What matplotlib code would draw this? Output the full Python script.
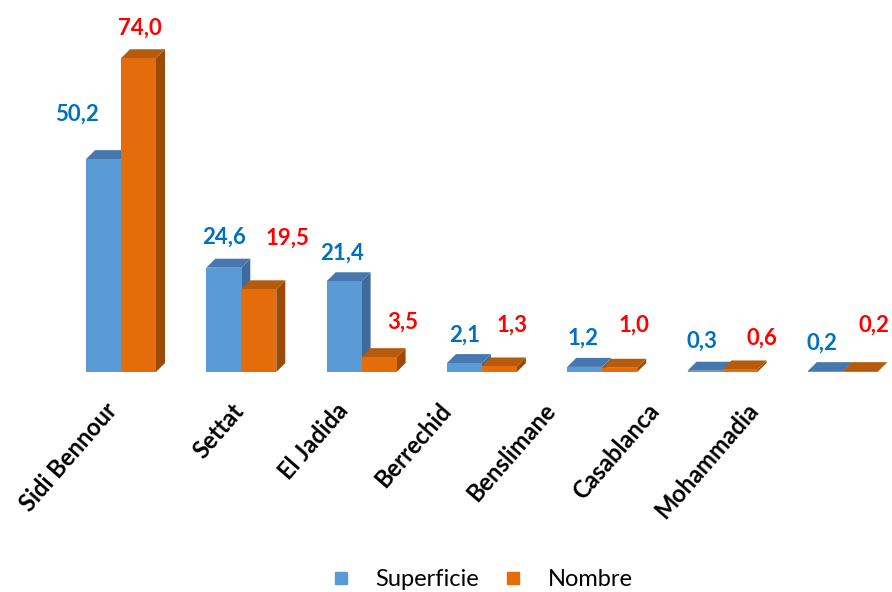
import matplotlib.pyplot as plt
from matplotlib.patches import Polygon
from matplotlib.lines import Line2D

# data
provinces = ["Sidi Bennour", "Settat", "El Jadida", "Berrechid",
             "Benslimane", "Casablanca", "Mohammadia"]
superficie = [50.2, 24.6, 21.4, 2.1, 1.2, 0.3, 0.2]
nombre = [74.0, 19.5, 3.5, 1.3, 1.0, 0.6, 0.2]
series_names = ["Superficie", "Nombre"]

# layout (pixel offsets of labels)
sup_lbl_off = [(-27, 45), (0, 30), (-2, 28), (0, 28), (-2, 29), (-3, 30), (-3, 28)]
nom_lbl_off = [(1, 30), (29, 51), (24, 35), (13, 41), (14, 43), (22, 31), (14, 46)]
cat_lbl_shift = [-17, -10, -26, -44, -60, -76, -97]

blue = "#5B9BD5"
blue_top = "#4677AE"
blue_side = "#3E6A9C"
orange = "#E46C0A"
orange_top = "#B65A0C"
orange_side = "#9C4A07"

px_x = 120.3        # pixels per category
px_y = 4.24         # pixels per unit
w = 35 / px_x
dx = 9 / px_x
dy = 9 / px_y

fig = plt.figure(figsize=(8.92, 5.92), dpi=100)
ax = fig.add_axes([0, 212 / 592, 1, 380 / 592])
ax.set_xlim(-121 / px_x, (892 - 121) / px_x)
ax.set_ylim(-8 / px_y, 372 / px_y)
ax.axis("off")


def bar3d(x0, h, front, top, side, z):
    ax.add_patch(Polygon([(x0 + w, 0), (x0 + w + dx, dy), (x0 + w + dx, h + dy), (x0 + w, h)],
                         closed=True, fc=side, ec="none", zorder=z))
    ax.add_patch(Polygon([(x0, h), (x0 + w, h), (x0 + w + dx, h + dy), (x0 + dx, h + dy)],
                         closed=True, fc=top, ec="none", zorder=z + 0.1))
    ax.bar(x0, h, width=w, align="edge", color=front, edgecolor="none", zorder=z + 0.2)


for i, (s, n) in enumerate(zip(superficie, nombre)):
    bar3d(i - w, s, blue, blue_top, blue_side, 2)
    bar3d(i, n, orange, orange_top, orange_side, 3)

    ax.annotate(f"{s:.1f}".replace(".", ","), xy=(i - w / 2, s), xytext=sup_lbl_off[i],
                textcoords="offset pixels", ha="center", va="center",
                fontsize=16, fontweight="bold", family="Lato", color="#0070C0")
    ax.annotate(f"{n:.1f}".replace(".", ","), xy=(i + w / 2, n), xytext=nom_lbl_off[i],
                textcoords="offset pixels", ha="center", va="center",
                fontsize=16, fontweight="bold", family="Lato", color="#FF0000")

    ax.annotate(provinces[i], xy=(i, 0), xytext=(cat_lbl_shift[i], -27),
                textcoords="offset pixels", ha="right", va="top",
                rotation=49, rotation_mode="anchor", annotation_clip=False,
                fontsize=17, fontweight="bold", family="Lato", color="black")

handles = [Line2D([], [], ls="none", marker="s", markersize=8, color=blue),
           Line2D([], [], ls="none", marker="s", markersize=8, color=orange)]
fig.legend(handles, series_names, loc="center", bbox_to_anchor=(481 / 892, 1 - 580 / 592),
           ncol=2, frameon=False, prop={"family": "Lato", "size": 17},
           handlelength=1.0, handletextpad=0.95, columnspacing=0.95)

fig.savefig("out.png", dpi=100)
